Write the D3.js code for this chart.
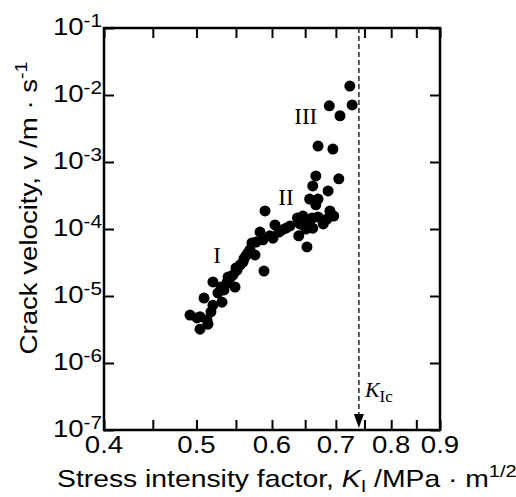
<!DOCTYPE html>
<html>
<head>
<meta charset="utf-8">
<script src="https://cdn.jsdelivr.net/npm/d3@7"></script>
<style>
  body { margin: 0; background: #fff; }
  svg { display: block; }
  .tick line { stroke: #000; stroke-width: 2; }
  .domain { stroke: none; }
</style>
</head>
<body>
<div class="chart"></div>
<script>
// Crack velocity vs stress intensity factor (log-log)

// stress intensity factor K_I (MPa m^1/2)
var kValues = [0.724, 0.728, 0.689, 0.707, 0.6705, 0.695, 0.667, 0.705, 0.662, 0.687,
    0.657, 0.6705, 0.667, 0.690, 0.6965, 0.638, 0.6465, 0.653, 0.661, 0.6705,
    0.662, 0.679, 0.6852, 0.640, 0.6528, 0.590, 0.6043, 0.6146, 0.6206, 0.5829,
    0.6014, 0.587, 0.5717, 0.5773, 0.5662, 0.5759, 0.5885, 0.5594, 0.5554, 0.5515,
    0.5461, 0.5422, 0.5501, 0.5396, 0.538, 0.5305, 0.5203, 0.5488, 0.5318, 0.5203,
    0.5092, 0.4923, 0.5006, 0.5043, 0.5129, 0.5178, 0.5043, 0.5141, 0.5266, 0.5344,
    0.5608, 0.5635, 0.569, 0.597, 0.610, 0.6266, 0.6419, 0.651];

// crack velocity v (m/s)
var vValues = [1.36e-2, 7.1e-3, 6.9e-3, 4.9e-3, 1.73e-3, 1.56e-3, 6.2e-4, 5.6e-4, 4.4e-4, 3.7e-4,
    2.8e-4, 2.8e-4, 2.3e-4, 1.86e-4, 1.56e-4, 1.46e-4, 1.56e-4, 1.36e-4, 1.46e-4, 1.51e-4,
    1.03e-4, 1.19e-4, 1.41e-4, 7.9e-5, 5.4e-5, 1.86e-4, 1.15e-4, 9.7e-5, 1.03e-4, 9.0e-5,
    7.3e-5, 6.9e-5, 6.2e-5, 6.4e-5, 4.4e-5, 4.1e-5, 2.36e-5, 3.2e-5, 2.9e-5, 2.44e-5,
    2.06e-5, 1.86e-5, 2.62e-5, 1.92e-5, 1.56e-5, 1.36e-5, 1.62e-5, 1.36e-5, 8.1e-6, 7.3e-6,
    9.3e-6, 5.2e-6, 4.7e-6, 4.9e-6, 4.4e-6, 5.8e-6, 3.2e-6, 3.8e-6, 1.11e-5, 1.23e-5,
    3.6e-5, 4.0e-5, 4.9e-5, 7.9e-5, 9.0e-5, 1.11e-4, 1.19e-4, 1.0e-4];

var xTicks = [0.4, 0.45, 0.5, 0.55, 0.6, 0.65, 0.7, 0.75, 0.8, 0.85, 0.9];
var xTickLabels = ["0.4", "0.5", "0.6", "0.7", "0.8", "0.9"];
var yTicks = [1e-7, 1e-6, 1e-5, 1e-4, 1e-3, 1e-2, 1e-1];
var yTickExponents = ["-7", "-6", "-5", "-4", "-3", "-2", "-1"];

var kIc = 0.74;
var stageLabels = ["I", "II", "III"];
var stageK = [0.5254, 0.6206, 0.651];
var stageV = [3.1e-5, 2.28e-4, 3.7e-3];

var svgWidth = 516;
var svgHeight = 497;
var margin = { top: 28, right: 76, bottom: 67, left: 104 };
var width = svgWidth - margin.left - margin.right;
var height = svgHeight - margin.top - margin.bottom;

// the sans text in the figure is a bit wider than Liberation Sans
var stretch = 1.15;
var sans = "Liberation Sans, Arial, sans-serif";
var serif = "Liberation Serif, Times New Roman, serif";

var svg = d3.select(".chart")
    .append("svg")
    .attr("width", svgWidth)
    .attr("height", svgHeight);

var chartGroup = svg.append("g")
    .attr("transform", `translate(${margin.left}, ${margin.top})`);

var xScale = d3.scaleLog()
    .domain([0.4, 0.9])
    .range([0, width]);

var yScale = d3.scaleLog()
    .domain([1e-7, 1e-1])
    .range([height, 0]);

// axes with inward ticks
var bottomAxis = d3.axisBottom(xScale).tickValues(xTicks).tickSize(-10).tickFormat("");
var topAxis = d3.axisTop(xScale).tickValues(xTicks).tickSize(-10).tickFormat("");
var leftAxis = d3.axisLeft(yScale).tickValues(yTicks).tickSize(-10).tickFormat("");
var rightAxis = d3.axisRight(yScale).tickValues(yTicks).tickSize(-10).tickFormat("");

chartGroup.append("g").attr("transform", `translate(0, ${height})`).call(bottomAxis);
chartGroup.append("g").call(topAxis);
chartGroup.append("g").call(leftAxis);
chartGroup.append("g").attr("transform", `translate(${width}, 0)`).call(rightAxis);

// frame
chartGroup.append("rect")
    .attr("width", width)
    .attr("height", height)
    .attr("fill", "none")
    .attr("stroke", "#000")
    .attr("stroke-width", 2.5);

// x tick labels
chartGroup.selectAll(".xlab")
    .data(xTickLabels)
    .enter()
    .append("text")
    .attr("transform", d => `translate(${xScale(+d)}, ${height + 23}) scale(${stretch}, 1)`)
    .attr("text-anchor", "middle")
    .attr("font-family", sans)
    .attr("font-size", 24)
    .text(d => d);

// y tick labels 10^n
var yLab = chartGroup.selectAll(".ylab")
    .data(yTicks)
    .enter()
    .append("text")
    .attr("transform", d => `translate(-2, ${yScale(d) + 7}) scale(${stretch}, 1)`)
    .attr("text-anchor", "end")
    .attr("font-family", sans)
    .attr("font-size", 24);
yLab.append("tspan").text("10");
yLab.append("tspan")
    .attr("dy", -8)
    .attr("font-size", 18)
    .text((d, i) => yTickExponents[i]);

// data points
chartGroup.selectAll("circle")
    .data(kValues)
    .enter()
    .append("circle")
    .attr("cx", d => xScale(d))
    .attr("cy", (d, i) => yScale(vValues[i]))
    .attr("r", 5.5)
    .attr("fill", "#000");

// stage labels
chartGroup.selectAll(".stage")
    .data(stageLabels)
    .enter()
    .append("text")
    .attr("x", (d, i) => xScale(stageK[i]))
    .attr("y", (d, i) => yScale(stageV[i]))
    .attr("text-anchor", "middle")
    .attr("font-family", serif)
    .attr("font-size", 23)
    .text(d => d);

// K_Ic dashed arrow
svg.append("defs").append("marker")
    .attr("id", "arrow")
    .attr("viewBox", "0 0 10 14")
    .attr("refX", 5)
    .attr("refY", 14)
    .attr("markerWidth", 10)
    .attr("markerHeight", 14)
    .attr("markerUnits", "userSpaceOnUse")
    .attr("orient", "0")
    .append("path")
    .attr("d", "M0,0 L10,0 L5,14 Z")
    .attr("fill", "#000");

chartGroup.append("line")
    .attr("x1", xScale(kIc))
    .attr("x2", xScale(kIc))
    .attr("y1", 0)
    .attr("y2", height - 2)
    .attr("stroke", "#333")
    .attr("stroke-width", 1.6)
    .attr("stroke-dasharray", "5,3")
    .attr("marker-end", "url(#arrow)");

var kicText = chartGroup.append("text")
    .attr("x", xScale(kIc) + 6)
    .attr("y", height - 33)
    .attr("font-family", serif)
    .attr("font-size", 22);
kicText.append("tspan").attr("font-style", "italic").text("K");
kicText.append("tspan").attr("dy", 5).attr("font-size", 17).text("Ic");

// axis titles
var xTitle = svg.append("text")
    .attr("transform", `translate(57, 487) scale(1.18, 1)`)
    .attr("font-family", sans)
    .attr("font-size", 24);
xTitle.append("tspan").text("Stress intensity factor, ");
xTitle.append("tspan").attr("font-style", "italic").text("K");
xTitle.append("tspan").attr("dy", 5).attr("font-size", 17).text("I");
xTitle.append("tspan").attr("dy", -5).text(" /MPa \u00b7 m");
xTitle.append("tspan").attr("dy", -10).attr("font-size", 17).text("1/2");

var yTitle = svg.append("text")
    .attr("transform", `translate(37, 208) rotate(-90) scale(${stretch}, 1)`)
    .attr("text-anchor", "middle")
    .attr("font-family", sans)
    .attr("font-size", 24);
yTitle.append("tspan").text("Crack velocity, v /m \u00b7 s");
yTitle.append("tspan").attr("dy", -10).attr("font-size", 17).text("-1");
</script>
</body>
</html>
